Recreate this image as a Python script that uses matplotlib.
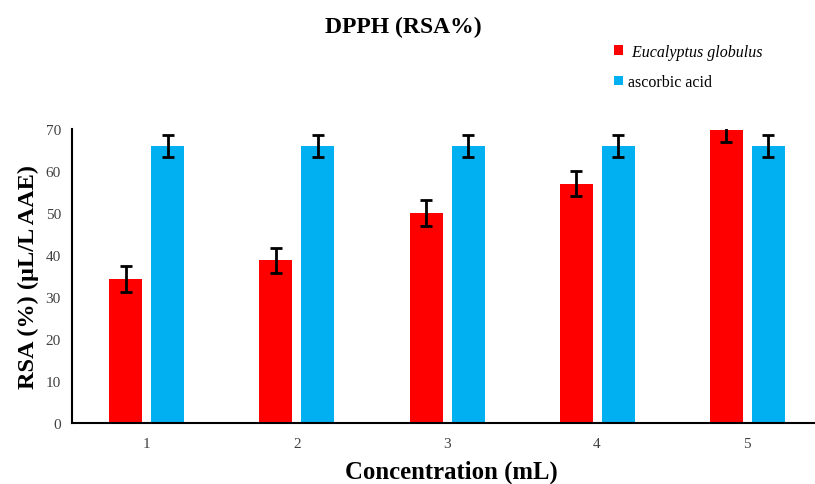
import matplotlib.pyplot as plt
import numpy as np

# data
concentrations = ["1", "2", "3", "4", "5"]
eucalyptus = [34.3, 38.7, 50.0, 57.0, 69.8]
eucalyptus_err = [3.1, 3.0, 3.0, 3.0, 3.0]
ascorbic = [66.0, 66.0, 66.0, 66.0, 66.0]
ascorbic_err = [2.6, 2.6, 2.6, 2.6, 2.6]

plt.rcParams['font.family'] = ['Liberation Serif', 'DejaVu Serif']

fig = plt.figure(figsize=(8.15, 4.85), dpi=100)
ax = fig.add_axes([0.0883, 0.1258, 0.9117, 0.6062])

x = np.arange(1, len(concentrations) + 1)
w = 0.22
err_style = dict(ecolor='black', elinewidth=2, capsize=4, capthick=2)

ax.bar(x - 0.14, eucalyptus, w, color='#FF0000', yerr=eucalyptus_err,
       error_kw=err_style, label=' Eucalyptus globulus')
ax.bar(x + 0.14, ascorbic, w, color='#00B0F0', yerr=ascorbic_err,
       error_kw=err_style, label='ascorbic acid')

ax.set_xlim(0.5, 5.453)
ax.set_ylim(0, 70)
ax.set_yticks(range(0, 71, 10))
ax.set_xticks(x)
ax.set_xticklabels(concentrations)
ax.tick_params(length=0, labelsize=11, labelcolor='#404040', pad=10)
ax.tick_params(axis='y', pad=8)

for s in ['top', 'right']:
    ax.spines[s].set_visible(False)
ax.spines['left'].set_linewidth(1.5)
ax.spines['bottom'].set_linewidth(1.5)

ax.set_xlabel('Concentration (mL)', fontsize=17.8, fontweight='bold', labelpad=7, x=0.51)
ax.set_ylabel('RSA (%) (µL/L AAE)', fontsize=17.5, fontweight='bold', labelpad=5)

fig.text(0.4945, 0.944, 'DPPH (RSA%)', fontsize=17, fontweight='bold', ha='center', va='center')

leg = fig.legend(loc='upper left', bbox_to_anchor=(0.736, 0.937), frameon=False,
                 handlelength=0.55, handleheight=0.55, handletextpad=0.3,
                 labelspacing=0.9, fontsize=11.5)
leg.get_texts()[0].set_style('italic')

fig.savefig('out.png', dpi=100)
